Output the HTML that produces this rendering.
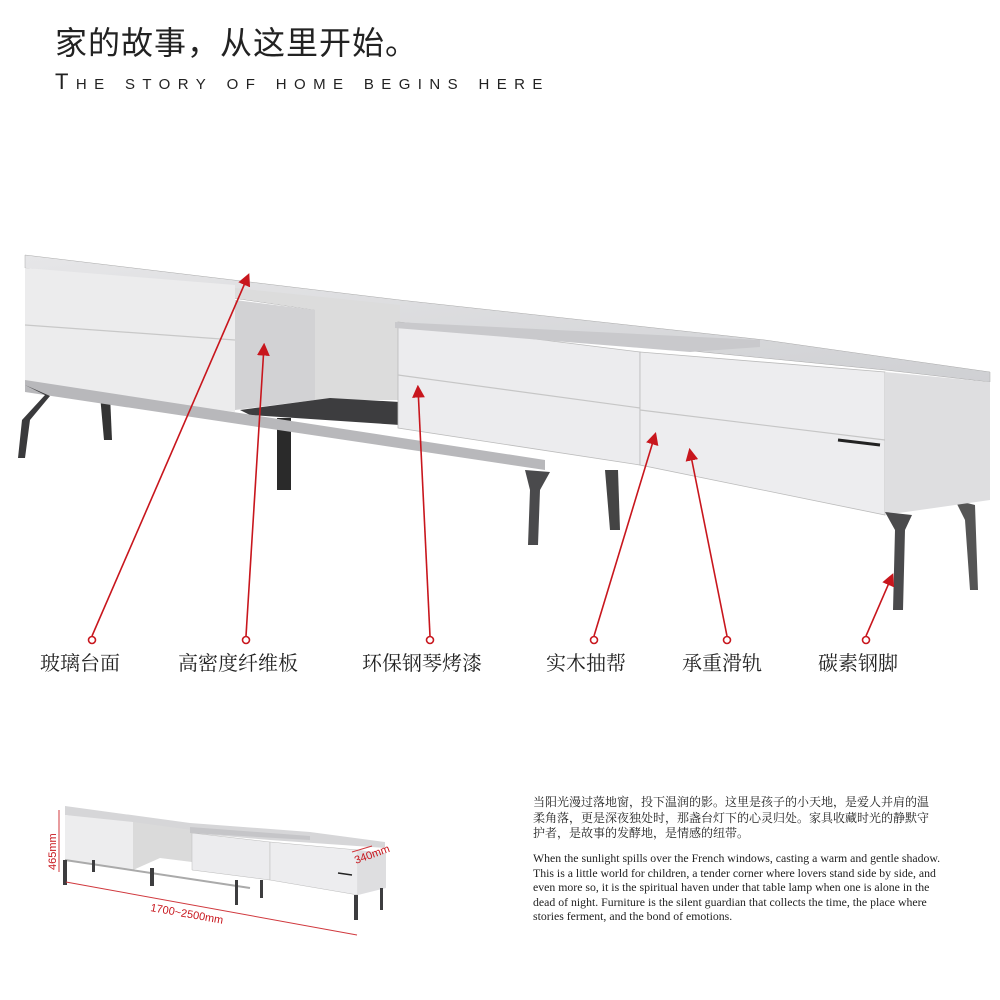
<!DOCTYPE html>
<html><head><meta charset="utf-8"><style>
body{margin:0;background:#fff;}
.wrap{position:relative;width:1000px;height:1000px;overflow:hidden;font-family:"Liberation Sans","Noto Sans CJK SC",sans-serif;}
.t1{position:absolute;left:55px;top:18px;font-size:32px;color:#222;letter-spacing:1px;}
.t2{position:absolute;left:55px;top:69px;font-size:22px;color:#222;letter-spacing:7.4px;font-variant:small-caps;white-space:nowrap;}
.pc{position:absolute;left:533px;top:794px;font-family:"Noto Serif CJK SC",serif;font-size:12px;line-height:15.5px;color:#222;white-space:nowrap;}
.pe{position:absolute;left:533px;top:851px;font-family:"Liberation Serif",serif;font-size:11.8px;line-height:14.6px;color:#222;white-space:nowrap;}
</style></head><body><div class="wrap">
<div class="t1">家的故事，从这里开始。</div>
<div class="t2">The story of home begins here</div>
<svg width="1000" height="1000" style="position:absolute;left:0;top:0">
<defs><linearGradient id="top" x1="0" y1="0" x2="1" y2="1"><stop offset="0" stop-color="#e6e6e8"/><stop offset="1" stop-color="#cfd0d3"/></linearGradient>
<marker id="ar" markerWidth="8" markerHeight="8" refX="6" refY="4" orient="auto"><path d="M0,0 L8,4 L0,8 z" fill="#c8161d"/></marker></defs>
<g>
<path d="M100,395 L104,440 L112,440 L110,395Z" fill="#333"/>
<path d="M277,418 L277,490 L291,490 L291,418Z" fill="#2a2a2a"/>
<path d="M605,470 L610,530 L620,530 L618,470Z" fill="#444"/>
<path d="M955,500 L965,520 L970,590 L978,590 L975,505Z" fill="#555"/>
<path d="M25,255 L400,300 L765,340 L990,372 L990,382 L885,370 L398,322 L25,268Z" fill="url(#top)" stroke="#aaa" stroke-width="0.5"/>
<path d="M25,268 L235,285 L235,412 L25,385Z" fill="#ececed"/>
<path d="M25,325 L235,340" stroke="#c8c8c8" stroke-width="1.2"/>
<path d="M235,288 L400,305 L400,400 L315,400 L315,310 L235,298Z" fill="#dcdcdc"/>
<path d="M235,300 L315,310 L315,400 L235,410Z" fill="#d2d2d4"/>
<path d="M240,410 L330,398 L400,402 L400,425 L250,415Z" fill="#3d3d3f"/>
<path d="M25,380 L545,460 L545,470 L25,392Z" fill="#b8b8bb"/>
<path d="M398,322 L640,352 L640,465 L398,428Z" fill="#ececee" stroke="#bbb" stroke-width="0.8"/>
<path d="M398,375 L640,408" stroke="#c6c6c6" stroke-width="1.2"/>
<path d="M395,322 L760,340 L760,347 L690,352 L395,328Z" fill="#c9c9cc"/>
<path d="M640,352 L885,372 L885,515 L640,465Z" fill="#ededef" stroke="#bbb" stroke-width="0.8"/>
<path d="M640,410 L885,440" stroke="#c6c6c6" stroke-width="1.2"/>
<path d="M885,372 L990,382 L990,500 L885,515Z" fill="#dedee0"/>
<path d="M838,440 L880,445" stroke="#222" stroke-width="3"/>
<path d="M25,385 L45,395 L22,420 L18,458 L25,458 L30,420 L50,396Z" fill="#3a3a3c"/>
<path d="M525,470 L530,490 L528,545 L538,545 L540,490 L550,472Z" fill="#4a4a4c"/>
<path d="M885,512 L895,530 L893,610 L903,610 L905,530 L912,515Z" fill="#4a4a4c"/>
</g>
<g stroke="#c8161d" stroke-width="1.6" fill="none">
<line x1="92" y1="636" x2="248" y2="276" marker-end="url(#ar)"/>
<line x1="246" y1="636" x2="264" y2="346" marker-end="url(#ar)"/>
<line x1="430" y1="636" x2="418" y2="388" marker-end="url(#ar)"/>
<line x1="594" y1="636" x2="655" y2="435" marker-end="url(#ar)"/>
<line x1="727" y1="636" x2="690" y2="451" marker-end="url(#ar)"/>
<line x1="866" y1="636" x2="892" y2="576" marker-end="url(#ar)"/>
<circle cx="92" cy="640" r="3.5" fill="#fff"/><circle cx="246" cy="640" r="3.5" fill="#fff"/>
<circle cx="430" cy="640" r="3.5" fill="#fff"/><circle cx="594" cy="640" r="3.5" fill="#fff"/>
<circle cx="727" cy="640" r="3.5" fill="#fff"/><circle cx="866" cy="640" r="3.5" fill="#fff"/>
</g>
<g font-family="Noto Serif CJK SC,serif" font-size="20" fill="#222">
<text x="40" y="670">玻璃台面</text><text x="178" y="670">高密度纤维板</text>
<text x="362" y="670">环保钢琴烤漆</text><text x="546" y="670">实木抽帮</text>
<text x="682" y="670">承重滑轨</text><text x="818" y="670">碳素钢脚</text>
</g>
<g>
<path d="M65,806 L190,823 L310,832 L385,842 L385,848 L270,840 L190,833 L65,815Z" fill="#d6d6d8"/>
<path d="M65,815 L133,822 L133,870 L65,860Z" fill="#ededee"/>
<path d="M133,822 L192,830 L192,862 L160,858 L133,870Z" fill="#dadada"/>
<path d="M192,833 L270,842 L270,880 L192,870Z" fill="#ececee" stroke="#bbb" stroke-width=".5"/>
<path d="M270,842 L358,850 L358,895 L270,880Z" fill="#ededef" stroke="#bbb" stroke-width=".5"/>
<path d="M358,850 L386,853 L386,888 L358,895Z" fill="#dedee0"/>
<path d="M190,827 L310,836 L310,840 L190,833Z" fill="#c5c5c8"/>
<path d="M338,873 L352,875" stroke="#222" stroke-width="1.5"/>
<path d="M65,860 L250,888" stroke="#aaa" stroke-width="2"/>
<g fill="#3d3d3f"><rect x="63" y="860" width="4" height="25"/><rect x="92" y="860" width="3" height="12"/><rect x="150" y="868" width="4" height="18"/><rect x="235" y="880" width="3" height="25"/><rect x="260" y="880" width="3" height="18"/><rect x="354" y="895" width="4" height="25"/><rect x="380" y="888" width="3" height="22"/></g>
</g>
<g stroke="#d0383d" stroke-width="1" fill="none">
<line x1="59" y1="810" x2="59" y2="872"/><line x1="66" y1="882" x2="357" y2="935"/><line x1="352" y1="852" x2="372" y2="846"/>
</g>
<g fill="#c8161d" font-family="Liberation Sans,sans-serif">
<text x="0" y="0" font-size="11" transform="translate(56,870) rotate(-90)">465mm</text>
<text x="0" y="0" font-size="11" transform="translate(150,911) rotate(10)">1700~2500mm</text>
<text x="0" y="0" font-size="11" transform="translate(356,864) rotate(-20)">340mm</text>
</g>
</svg>
<div class="pc">当阳光漫过落地窗，投下温润的影。这里是孩子的小天地，是爱人并肩的温<br>柔角落，更是深夜独处时，那盏台灯下的心灵归处。家具收藏时光的静默守<br>护者，是故事的发酵地，是情感的纽带。</div>
<div class="pe">When the sunlight spills over the French windows, casting a warm and gentle shadow.<br>This is a little world for children, a tender corner where lovers stand side by side, and<br>even more so, it is the spiritual haven under that table lamp when one is alone in the<br>dead of night. Furniture is the silent guardian that collects the time, the place where<br>stories ferment, and the bond of emotions.</div>
</div></body></html>
